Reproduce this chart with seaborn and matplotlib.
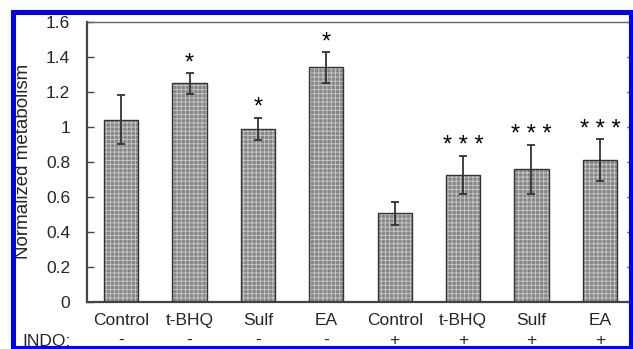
import pandas as pd
import matplotlib
matplotlib.use("Agg")
import matplotlib.pyplot as plt
import seaborn as sns
from matplotlib.patches import Rectangle

# values
treatments = ["Control", "t-BHQ", "Sulf", "EA", "Control", "t-BHQ", "Sulf", "EA"]
indo = ["-", "-", "-", "-", "+", "+", "+", "+"]
means = [1.04, 1.25, 0.99, 1.34, 0.505, 0.725, 0.757, 0.808]
errors = [0.14, 0.06, 0.063, 0.088, 0.065, 0.11, 0.14, 0.12]
stars = ["", "*", "*", "*", "", "* * *", "* * *", "* * *"]
yticks = [0, 0.2, 0.4, 0.6, 0.8, 1.0, 1.2, 1.4, 1.6]
ytick_labels = ["0", "0.2", "0.4", "0.6", "0.8", "1", "1.2", "1.4", "1.6"]

sns.set_style("ticks")
plt.rcParams['font.family'] = ['Liberation Sans', 'DejaVu Sans']
plt.rcParams['hatch.linewidth'] = 0.7

df = pd.DataFrame({"pos": range(len(means)), "value": means})

W, H = 633, 349
fig = plt.figure(figsize=(W / 100, H / 100), dpi=100)
ax = fig.add_axes([87 / W, 1 - 301.7 / H, (634 - 87) / W, (301.7 - 22) / H])

sns.barplot(data=df, x="pos", y="value", width=0.5, color="#8c8c8c",
            errorbar=None, ax=ax)
for p in ax.patches:
    p.set_facecolor("#858585")
    p.set_edgecolor("#c4c4c4")
    p.set_hatch("++++")
    p.set_linewidth(0)
    ax.add_patch(Rectangle(p.get_xy(), p.get_width(), p.get_height(),
                           fill=False, edgecolor="#333333", linewidth=1.0, zorder=3))

ax.errorbar(df["pos"], df["value"], yerr=errors, fmt="none", ecolor="#333333",
            elinewidth=1.3, capsize=3, capthick=1.3, zorder=4)

for i, (m, e, s) in enumerate(zip(means, errors, stars)):
    if s:
        ax.annotate(s, (i, m + e), xytext=(0, -1), textcoords="offset points",
                    ha="center", va="bottom", fontsize=17, color="black")

ax.set_xlim(-0.5, len(means) - 0.5)
ax.set_ylim(0, 1.6)
ax.set_yticks(yticks)
ax.set_yticklabels(ytick_labels, fontsize=12.5)
ax.set_xticks(range(len(means)))
ax.set_xticklabels([f"{t}\n{s}" for t, s in zip(treatments, indo)], fontsize=12.5,
                   linespacing=1.45)
ax.tick_params(axis="x", length=0, pad=8)
ax.tick_params(axis="y", direction="in", length=5, width=1, color="#444444",
               right=True, pad=12)
ax.set_xlabel("")
ax.set_ylabel("Normalized metabolism", fontsize=13.5)
ax.yaxis.set_label_coords((32 - 87) / 547, 0.5)
for side in ["left", "bottom"]:
    ax.spines[side].set_linewidth(1.6)
    ax.spines[side].set_color("#444444")
for side in ["top", "right"]:
    ax.spines[side].set_linewidth(1.0)
    ax.spines[side].set_color("#666666")

fig.text(22 / W, 1 - 342 / H, "INDO:", ha="left", va="center", fontsize=12.5)

# blue frame around the cropped figure
fig.add_artist(Rectangle((12.5 / W, 1 - 347.5 / H), (630.5 - 12.5) / W, (347.5 - 11.5) / H,
                         transform=fig.transFigure, fill=False, edgecolor="#0000ff",
                         linewidth=5 * 0.72, zorder=10))

fig.savefig("out.png", dpi=100)
